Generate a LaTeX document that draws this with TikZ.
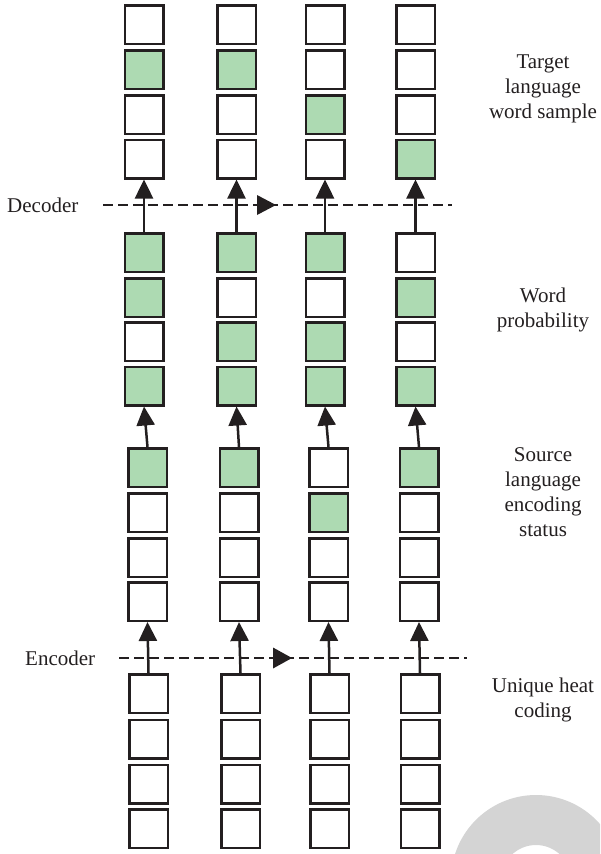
\documentclass[tikz,border=0pt]{standalone}
\usepackage{fontspec}
\setmainfont{Liberation Serif}
\usetikzlibrary{arrows.meta}
\definecolor{ink}{RGB}{35,31,32}
\definecolor{cellgreen}{RGB}{173,218,178}
\definecolor{wmgray}{RGB}{212,212,212}
\begin{document}
\begin{tikzpicture}[x=1pt,y=-1pt,
  cell/.style={draw=ink,line width=2.5pt,minimum size=38.5pt,inner sep=0pt},
  uparrow/.style={draw=ink,line width=2.5pt,-{Triangle[width=18pt,length=19pt]}},
  flow/.style={draw=ink,line width=1.2pt,dash pattern=on 10pt off 5pt},
  midtip/.style={fill=ink},
  lab/.style={text=ink,font=\fontsize{21}{25}\selectfont,align=center,inner sep=0pt},
  wmshape/.style={fill=wmgray}]
\useasboundingbox (0,0) rectangle (600,854);
% watermark shape
\begin{scope}
\clip (0,0) rectangle (600,854);
\fill[wmshape,even odd rule] (536,880) circle (85) (536,880) circle (35);
\end{scope}
% target language word sample
\foreach \c/\x/\a/\b/\e/\d in {1/144/white/cellgreen/white/white,2/236.5/white/cellgreen/white/white,3/325/white/white/cellgreen/white,4/415.5/white/white/white/cellgreen}{
  \node[cell,fill=\a] (t\c1) at (\x,24.5) {};
  \node[cell,fill=\b] (t\c2) at (\x,69.5) {};
  \node[cell,fill=\e] (t\c3) at (\x,114.5) {};
  \node[cell,fill=\d] (t\c4) at (\x,159) {};
}
% word probability
\foreach \c/\x/\a/\b/\e/\d in {1/144/cellgreen/cellgreen/white/cellgreen,2/236.5/cellgreen/white/cellgreen/cellgreen,3/325/cellgreen/white/cellgreen/cellgreen,4/415.5/white/cellgreen/white/cellgreen}{
  \node[cell,fill=\a] (p\c1) at (\x,252.5) {};
  \node[cell,fill=\b] (p\c2) at (\x,297.5) {};
  \node[cell,fill=\e] (p\c3) at (\x,341.5) {};
  \node[cell,fill=\d] (p\c4) at (\x,386) {};
}
% source language encoding status
\foreach \c/\x/\a/\b/\e/\d in {1/147.5/cellgreen/white/white/white,2/239/cellgreen/white/white/white,3/328.5/white/cellgreen/white/white,4/419/cellgreen/white/white/white}{
  \node[cell,fill=\a] (s\c1) at (\x,467.5) {};
  \node[cell,fill=\b] (s\c2) at (\x,512.5) {};
  \node[cell,fill=\e] (s\c3) at (\x,557.5) {};
  \node[cell,fill=\d] (s\c4) at (\x,601.5) {};
}
% unique heat coding
\foreach \c/\x in {1/148.5,2/240.5,3/329.5,4/420}{
  \node[cell,fill=white] (u\c1) at (\x,693.5) {};
  \node[cell,fill=white] (u\c2) at (\x,739) {};
  \node[cell,fill=white] (u\c3) at (\x,784) {};
  \node[cell,fill=white] (u\c4) at (\x,828.5) {};
}
% decoder / encoder dashed flows
\coordinate (decL) at (103,205);
\coordinate (decR) at (452,205);
\coordinate (decM) at (276,205);
\coordinate (encL) at (119,658);
\coordinate (encR) at (467,658);
\coordinate (encM) at (292,658);
\draw[flow] (decL) -- (decR);
\draw[flow] (encL) -- (encR);
\fill[midtip] (decM) -- ++(-19,-10) -- ++(0,20) -- cycle;
\fill[midtip] (encM) -- ++(-19,-10.5) -- ++(0,21) -- cycle;
% vertical arrows
\foreach \c in {1,...,4}{
  \draw[uparrow] (p\c1.north) -- (t\c4.south);
  \draw[uparrow] (s\c1.north) -- (p\c4.south);
  \draw[uparrow] (u\c1.north) -- (s\c4.south);
}
% labels
\node[lab,anchor=west] (declab) at (7,205) {Decoder};
\node[lab,anchor=west] (enclab) at (25,658) {Encoder};
\node[lab] (lt) at (543,89) {Target\\language\\word sample};
\node[lab] (lp) at (543,310) {Word\\probability};
\node[lab] (ls) at (543,492) {Source\\language\\encoding\\status};
\node[lab] (lu) at (543,700) {Unique heat\\coding};
\end{tikzpicture}
\end{document}
